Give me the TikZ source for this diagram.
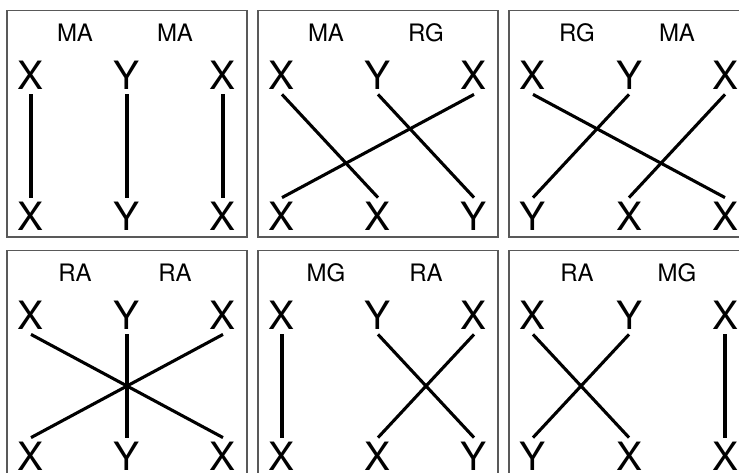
\documentclass[tikz,border=0pt]{standalone}
\usepackage{fontspec}
\setmainfont{TeX Gyre Heros}
\tikzset{
  letter/.style={font=\fontsize{39}{39}\selectfont, inner xsep=0pt, inner ysep=4.5pt},
  tag/.style={font=\fontsize{24}{24}\selectfont},
  frame/.style={draw=black!65, line width=1.2pt},
  link/.style={line width=3.1pt}
}
\begin{document}
\begin{tikzpicture}[x=1pt, y=-1pt]
\clip (0,0) rectangle (739,473);
\foreach \px/\py/\la/\lb/\ta/\tb/\tc/\ba/\bb/\bc/\links in {
  7/10.5/MA/MA/X/Y/X/X/Y/X/{1/1,2/2,3/3},
  258/10.5/MA/RG/X/Y/X/X/X/Y/{1/2,2/3,3/1},
  509/10.5/RG/MA/X/Y/X/Y/X/X/{1/3,2/1,3/2},
  7/250.5/RA/RA/X/Y/X/X/Y/X/{1/3,2/2,3/1},
  258/250.5/MG/RA/X/Y/X/X/X/Y/{1/1,2/3,3/2},
  509/250.5/RA/MG/X/Y/X/Y/X/X/{1/2,2/1,3/3}}
{
  \begin{scope}[shift={(\px,\py)}]
    \draw[frame] (0,0) rectangle (240,226.5);
    \node[tag] (left) at (68,22.5) {\la};
    \node[tag] (right) at (168,22.5) {\lb};
    \node[letter] (top1) at (24,65) {\ta};
    \node[letter] (top2) at (120,65) {\tb};
    \node[letter] (top3) at (216,65) {\tc};
    \node[letter] (bot1) at (24,206) {\ba};
    \node[letter] (bot2) at (120,206) {\bb};
    \node[letter] (bot3) at (216,206) {\bc};
    \foreach \s/\e in \links
      \draw[link] (top\s.south) -- (bot\e.north);
  \end{scope}
}
\end{tikzpicture}
\end{document}
